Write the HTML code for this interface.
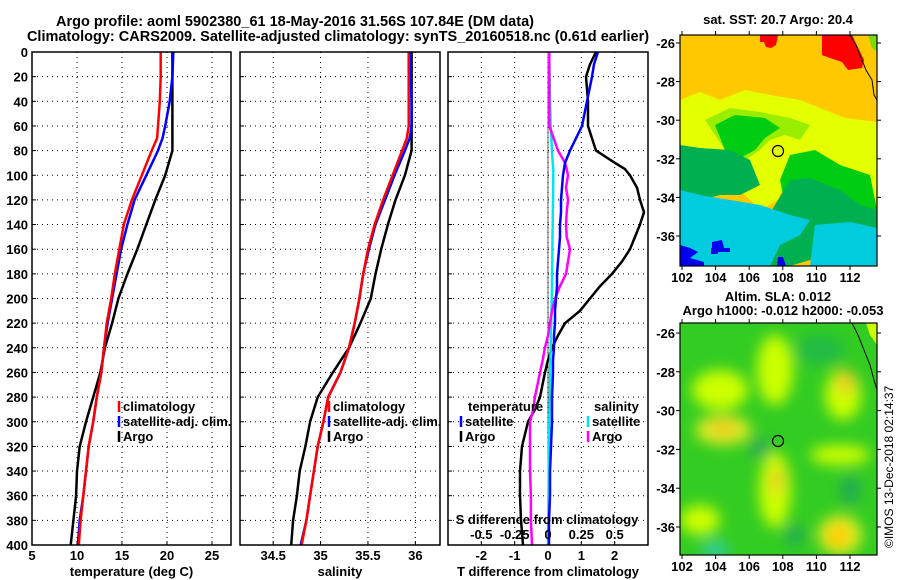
<!DOCTYPE html>
<html><head><meta charset="utf-8"><style>
body{margin:0;background:#fff}
svg{display:block;font-family:"Liberation Sans",sans-serif;font-weight:bold}
text{font-size:13px;fill:#000}
</style></head><body>
<svg id="chart" width="900" height="580" viewBox="0 0 900 580">
<defs>
<filter id="blur" x="-20%" y="-20%" width="140%" height="140%"><feGaussianBlur stdDeviation="7"/></filter>
<clipPath id="clipTop"><rect x="680" y="35" width="197" height="231"/></clipPath>
<clipPath id="clipBot"><rect x="680" y="323" width="197" height="232"/></clipPath>
</defs>
<text x="295" y="26" text-anchor="middle" style="font-size:14.5px">Argo profile: aoml 5902380_61 18-May-2016 31.56S 107.84E (DM data)</text>
<text x="338" y="41" text-anchor="middle" style="font-size:14.5px">Climatology: CARS2009. Satellite-adjusted climatology: synTS_20160518.nc (0.61d earlier)</text>

<g id="maps">
<text x="778" y="24" text-anchor="middle">sat. SST: 20.7 Argo: 20.4</text>
<g clip-path="url(#clipTop)">
<rect x="680" y="35" width="197" height="231" fill="#ffc800"/>
<polygon fill="#e4ff00" points="680,100 700,92 720,100 745,90 770,95 800,100 820,108 845,118 877,122 877,200 860,195 840,185 820,160 790,170 778,200 760,210 740,190 720,175 700,160 680,150"/>
<polygon fill="#99ee00" points="705,120 730,108 760,112 790,118 810,125 800,140 785,135 770,140 760,150 745,160 725,150 715,135"/>
<polygon fill="#00cc11" points="715,125 735,115 765,118 780,128 765,138 755,150 740,158 725,150"/>
<polygon fill="#00cc11" points="790,155 815,150 840,165 870,175 877,210 877,240 850,235 830,220 800,215 785,205 780,180"/>
<polygon fill="#00b050" points="680,145 700,148 730,150 750,160 760,185 740,195 720,195 700,200 680,200"/>
<polygon fill="#00b050" points="790,180 810,178 840,190 860,205 877,210 877,245 840,245 810,260 790,266 770,266 760,230 775,205"/>
<polygon fill="#00ccdd" points="680,190 700,195 730,200 760,205 790,215 810,220 800,235 780,245 770,266 680,266"/>
<polygon fill="#00ccdd" points="815,225 850,222 877,228 877,266 810,266"/>
<polygon fill="#0000ee" points="712,242 722,240 724,248 730,248 730,252 712,252"/>
<polygon fill="#0000ee" points="680,245 690,248 698,252 690,258 704,262 704,266 680,266"/>
<polygon fill="#0000ee" points="711,248 718,248 718,254 711,254"/>
<polygon fill="#0000ee" points="778,257 783,257 786,266 777,266"/>
<polygon fill="#ff0000" points="760,35 778,35 776,45 771,48 766,47 764,42 760,42"/>
<polygon fill="#ff0000" points="822,35 852,35 864,60 862,68 848,70 842,62 830,58 822,55"/>
<polyline fill="none" stroke="#000" stroke-width="1" points="850,35 856,45 862,60 866,70 872,80 874,95 877,100"/>
<polygon fill="#77dd00" points="868,35 877,35 877,52 872,48"/>
<circle cx="778" cy="151" r="5.5" fill="none" stroke="#000" stroke-width="1.2"/>
</g>
<rect x="680" y="35" width="197" height="231" fill="none" stroke="#000" stroke-width="1.2"/>

<text x="778" y="301" text-anchor="middle">Altim. SLA: 0.012</text>
<text x="783" y="315" text-anchor="middle">Argo h1000: -0.012 h2000: -0.053</text>
<g clip-path="url(#clipBot)">
<rect x="680" y="323" width="197" height="232" fill="#33cc22"/>
<g filter="url(#blur)">
<ellipse cx="720" cy="390" rx="28" ry="20" fill="#ccff00"/>
<ellipse cx="723" cy="430" rx="28" ry="15" fill="#ddee22"/>
<ellipse cx="723" cy="428" rx="14" ry="9" fill="#eecc22"/>
<ellipse cx="775" cy="370" rx="18" ry="35" fill="#ccff00"/>
<ellipse cx="843" cy="395" rx="18" ry="25" fill="#ccff00"/>
<ellipse cx="846" cy="382" rx="10" ry="12" fill="#eecc22"/>
<ellipse cx="775" cy="490" rx="16" ry="38" fill="#ccff00"/>
<ellipse cx="777" cy="480" rx="7" ry="14" fill="#eecc22"/>
<ellipse cx="840" cy="535" rx="22" ry="20" fill="#ddee22"/>
<ellipse cx="838" cy="536" rx="12" ry="12" fill="#ffcc00"/>
<ellipse cx="700" cy="520" rx="20" ry="15" fill="#ccff00"/>
<ellipse cx="840" cy="455" rx="30" ry="10" fill="#ccff00"/>
<ellipse cx="820" cy="350" rx="25" ry="15" fill="#22bb44"/>
<ellipse cx="760" cy="448" rx="12" ry="9" fill="#22aa55"/>
<ellipse cx="850" cy="490" rx="10" ry="15" fill="#22aa55"/>
<ellipse cx="795" cy="535" rx="10" ry="10" fill="#22aa55"/>
<ellipse cx="715" cy="550" rx="14" ry="8" fill="#33ccaa"/>
</g>
<polyline fill="none" stroke="#000" stroke-width="1" points="852,323 858,335 864,350 870,365 874,380 877,390"/>
<polygon fill="#ccff00" points="866,323 877,323 877,345 870,335"/>
<circle cx="778" cy="441" r="5.5" fill="none" stroke="#000" stroke-width="1.2"/>
</g>
<rect x="680" y="323" width="197" height="232" fill="none" stroke="#000" stroke-width="1.2"/>
<text transform="translate(893,548) rotate(-90)" style="font-weight:normal;font-size:12px">©IMOS 13-Dec-2018 02:14:37</text>
</g>
<g id="plots"></g>
</svg>
<script>
// ---- data ----
const depths = [0,20,40,60,70,80,100,120,140,160,180,200,220,240,260,280,300,320,340,360,380,400];
const tempArgo = [20.6,20.6,20.6,20.6,20.6,20.6,19.8,18.7,17.7,16.7,15.6,14.6,13.9,13.1,12.6,11.8,11.0,10.3,10.0,9.9,9.6,9.3];
const tempClim = [19.3,19.3,19.2,19.0,18.9,18.3,17.2,16.1,15.2,14.7,14.2,13.8,13.3,13.0,12.7,12.2,11.8,11.3,11.0,10.7,10.4,10.2];
const tempSat  = [20.7,20.6,20.3,19.8,19.5,19.0,17.7,16.4,15.6,14.9,14.4,13.9,13.4,13.0,12.7,12.2,11.8,11.3,11.0,10.7,10.3,10.1];
const salArgo = [35.96,35.96,35.96,35.96,35.96,35.96,35.89,35.79,35.71,35.64,35.58,35.53,35.42,35.30,35.13,34.97,34.89,34.84,34.78,34.75,34.71,34.69];
const salClim = [35.93,35.93,35.93,35.93,35.91,35.86,35.76,35.66,35.57,35.50,35.45,35.41,35.36,35.30,35.21,35.08,35.03,34.97,34.93,34.89,34.85,34.80];
const salSat  = [35.95,35.95,35.96,35.96,35.94,35.89,35.78,35.68,35.58,35.51,35.45,35.41,35.36,35.30,35.21,35.08,35.03,34.97,34.93,34.89,34.85,34.79];
const diffDepths = [0,10,20,40,60,80,90,95,100,110,120,130,140,150,160,170,180,190,200,210,220,230,240,250,260,280,290,300,320,340,360,380,400];
const dTArgo = [1.44,1.26,1.14,1.2,1.2,1.44,2.01,2.31,2.46,2.67,2.76,2.88,2.76,2.61,2.46,2.22,1.92,1.56,1.26,0.96,0.51,0.3,0.12,0,-0.09,-0.24,-0.39,-0.6,-0.78,-0.84,-0.84,-0.81,-0.75];
const dTSat  = [1.5,1.38,1.32,1.17,1.02,0.66,0.51,0.48,0.45,0.42,0.39,0.39,0.36,0.36,0.33,0.3,0.27,0.27,0.24,0.21,0.21,0.18,0.18,0.15,0.15,0.12,0.12,0.12,0.09,0.06,0.06,0.03,0.03];
const dSArgo = [0.01,0.01,0.01,0.01,0.01,0.075,0.128,0.14,0.15,0.135,0.15,0.14,0.135,0.14,0.165,0.15,0.135,0.09,0.053,0.03,0.015,0,-0.023,-0.04,-0.06,-0.098,-0.11,-0.135,-0.135,-0.135,-0.128,-0.128,-0.12];
const dSSat  = [0.008,0.01,0.012,0.015,0.02,0.03,0.035,0.04,0.04,0.038,0.038,0.036,0.035,0.034,0.033,0.032,0.03,0.03,0.028,0.026,0.024,0.022,0.02,0.018,0.016,0.014,0.012,0.01,0.008,0.006,0.004,0.002,0];
const depthTicks = [0,20,40,60,80,100,120,140,160,180,200,220,240,260,280,300,320,340,360,380,400];
const tempTicks = [5,10,15,20,25];
const salTicks = [34.5,35,35.5,36];
const dTTicks = [-2,-1,0,1,2];
const dSTicks = [-0.5,-0.25,0,0.25,0.5];

const NS='http://www.w3.org/2000/svg';
const root=document.getElementById('plots');
const Y0=52, Y1=545;
const y=d=>Y0+(d/400)*(Y1-Y0);
function el(tag,attrs,parent){const e=document.createElementNS(NS,tag);for(const k in attrs)e.setAttribute(k,attrs[k]);(parent||root).appendChild(e);return e;}
function linScale(d0,d1,r0,r1){return v=>r0+(v-d0)/(d1-d0)*(r1-r0);}

const panels=[
 {x0:32,x1:231,dom:[5,27.11],ticks:tempTicks,label:'temperature (deg C)',name:'temperature-panel'},
 {x0:240,x1:440,dom:[34.15,36.26],ticks:salTicks,label:'salinity',name:'salinity-panel'},
 {x0:448,x1:648,dom:[-3,3],ticks:dTTicks,label:'T difference from climatology',name:'difference-panel'}
];
panels.forEach((p,i)=>{
 p.sx=linScale(p.dom[0],p.dom[1],p.x0,p.x1);
 const g=el('g',{});
 
 
 p.g=g;
 depthTicks.forEach(d=>{
  if(d>0&&d<400){const l=el('line',{x1:p.x0,x2:p.x1,y1:y(d),y2:y(d),stroke:'#000','stroke-width':1,'stroke-dasharray':'1 4'},g);
  }
  el('line',{x1:p.x0,x2:p.x0+4,y1:y(d),y2:y(d),stroke:'#000'},g);
 });
 p.ticks.forEach(t=>{
  const X=p.sx(t);
  if(X>p.x0+2&&X<p.x1-2){const l=el('line',{x1:X,x2:X,y1:Y0,y2:Y1,stroke:'#000','stroke-width':1,'stroke-dasharray':'1 4'},g);
  }
  el('line',{x1:X,x2:X,y1:Y1,y2:Y1-4,stroke:'#000'},g);
  const tx=el('text',{x:X,y:Y1+15,'text-anchor':'middle'},g);tx.textContent=String(t);
  
 });
 const lab=el('text',{x:(p.x0+p.x1)/2,y:Y1+31,'text-anchor':'middle'},g);lab.textContent=p.label;
 
});
// y tick labels
depthTicks.forEach(d=>{const t=el('text',{x:28,y:y(d)+5,'text-anchor':'end'});t.textContent=String(d);
 });

function series(p,vals,ds,color,name,sx){
 const f=sx||p.sx;
 const pts=vals.map((v,i)=>f(v).toFixed(1)+','+y(ds[i]).toFixed(1)).join(' ');
 const l=el('polyline',{points:pts,fill:'none',stroke:color,'stroke-width':2.5,'stroke-linejoin':'round'},p.g);
 
 
}
series(panels[0],tempArgo,depths,'#000','temp-argo-line');
series(panels[0],tempSat,depths,'#0000ff','temp-satellite-line');
series(panels[0],tempClim,depths,'#ff0000','temp-climatology-line');
series(panels[1],salArgo,depths,'#000','sal-argo-line');
series(panels[1],salSat,depths,'#0000ff','sal-satellite-line');
series(panels[1],salClim,depths,'#ff0000','sal-climatology-line');
const sS=linScale(-0.75,0.75,448,648);
el('line',{x1:panels[2].sx(0),x2:panels[2].sx(0),y1:Y0,y2:Y1,stroke:'#000','stroke-width':0.6},panels[2].g);
series(panels[2],dTArgo,diffDepths,'#000','dT-argo-line');
series(panels[2],dSSat,diffDepths,'#00e5ee','dS-satellite-line',sS);
series(panels[2],dSArgo,diffDepths,'#ff00ff','dS-argo-line',sS);
series(panels[2],dTSat,diffDepths,'#0000ff','dT-satellite-line');
dSTicks.forEach(t=>{const t2=el('text',{x:sS(t),y:539,'text-anchor':'middle'},panels[2].g);t2.textContent=String(t);
 });
const st=el('text',{x:547,y:524,'text-anchor':'middle'},panels[2].g);st.textContent='S difference from climatology';

panels.forEach(p=>{el('rect',{x:p.x0,y:Y0,width:p.x1-p.x0,height:Y1-Y0,fill:'none',stroke:'#000','stroke-width':1.5},p.g);});

function legend(x,yy,color,label,name){
 const g=el('g',{});
 
 
 if(color)el('line',{x1:x,x2:x,y1:yy-10,y2:yy+1,stroke:color,'stroke-width':2.5},g);
 const t=el('text',{x:x+(color?4:0),y:yy},g);t.textContent=label;
}
legend(119,411,'#ff0000','climatology','legend-climatology');
legend(119,426,'#0000ff','satellite-adj. clim.','legend-satellite-adj');
legend(119,441,'#000','Argo','legend-argo');
legend(329,411,'#ff0000','climatology','legend-sal-climatology');
legend(329,426,'#0000ff','satellite-adj. clim.','legend-sal-satellite-adj');
legend(329,441,'#000','Argo','legend-sal-argo');
legend(468,411,null,'temperature','legend-temperature-header');
legend(461,426,'#0000ff','satellite','legend-dT-satellite');
legend(461,441,'#000','Argo','legend-dT-argo');
legend(594,411,null,'salinity','legend-salinity-header');
legend(588,426,'#00e5ee','satellite','legend-dS-satellite');
legend(588,441,'#ff00ff','Argo','legend-dS-argo');

function mapAxes(top,bot,lat0y,lat1y,name){
 const g=el('g',{});
 
 
 const lonX=l=>682+(l-102)*(850-682)/10;
 [102,104,106,108,110,112].forEach(l=>{el('line',{x1:lonX(l),x2:lonX(l),y1:bot,y2:bot+4,stroke:'#000'},g);el('line',{x1:lonX(l),x2:lonX(l),y1:top,y2:top-4,stroke:'#000'},g);
  const t=el('text',{x:lonX(l),y:bot+16,'text-anchor':'middle'},g);t.textContent=String(l);});
 [-26,-28,-30,-32,-34,-36].forEach(la=>{const Y=lat0y+(la+26)/-10*(lat1y-lat0y);
  el('line',{x1:676,x2:680,y1:Y,y2:Y,stroke:'#000'},g);el('line',{x1:877,x2:881,y1:Y,y2:Y,stroke:'#000'},g);
  const t=el('text',{x:675,y:Y+5,'text-anchor':'end'},g);t.textContent=String(la);});
}
mapAxes(35,266,43,236,'sst-map-axes');
mapAxes(323,555,333,527,'sla-map-axes');
</script>
</body></html>
